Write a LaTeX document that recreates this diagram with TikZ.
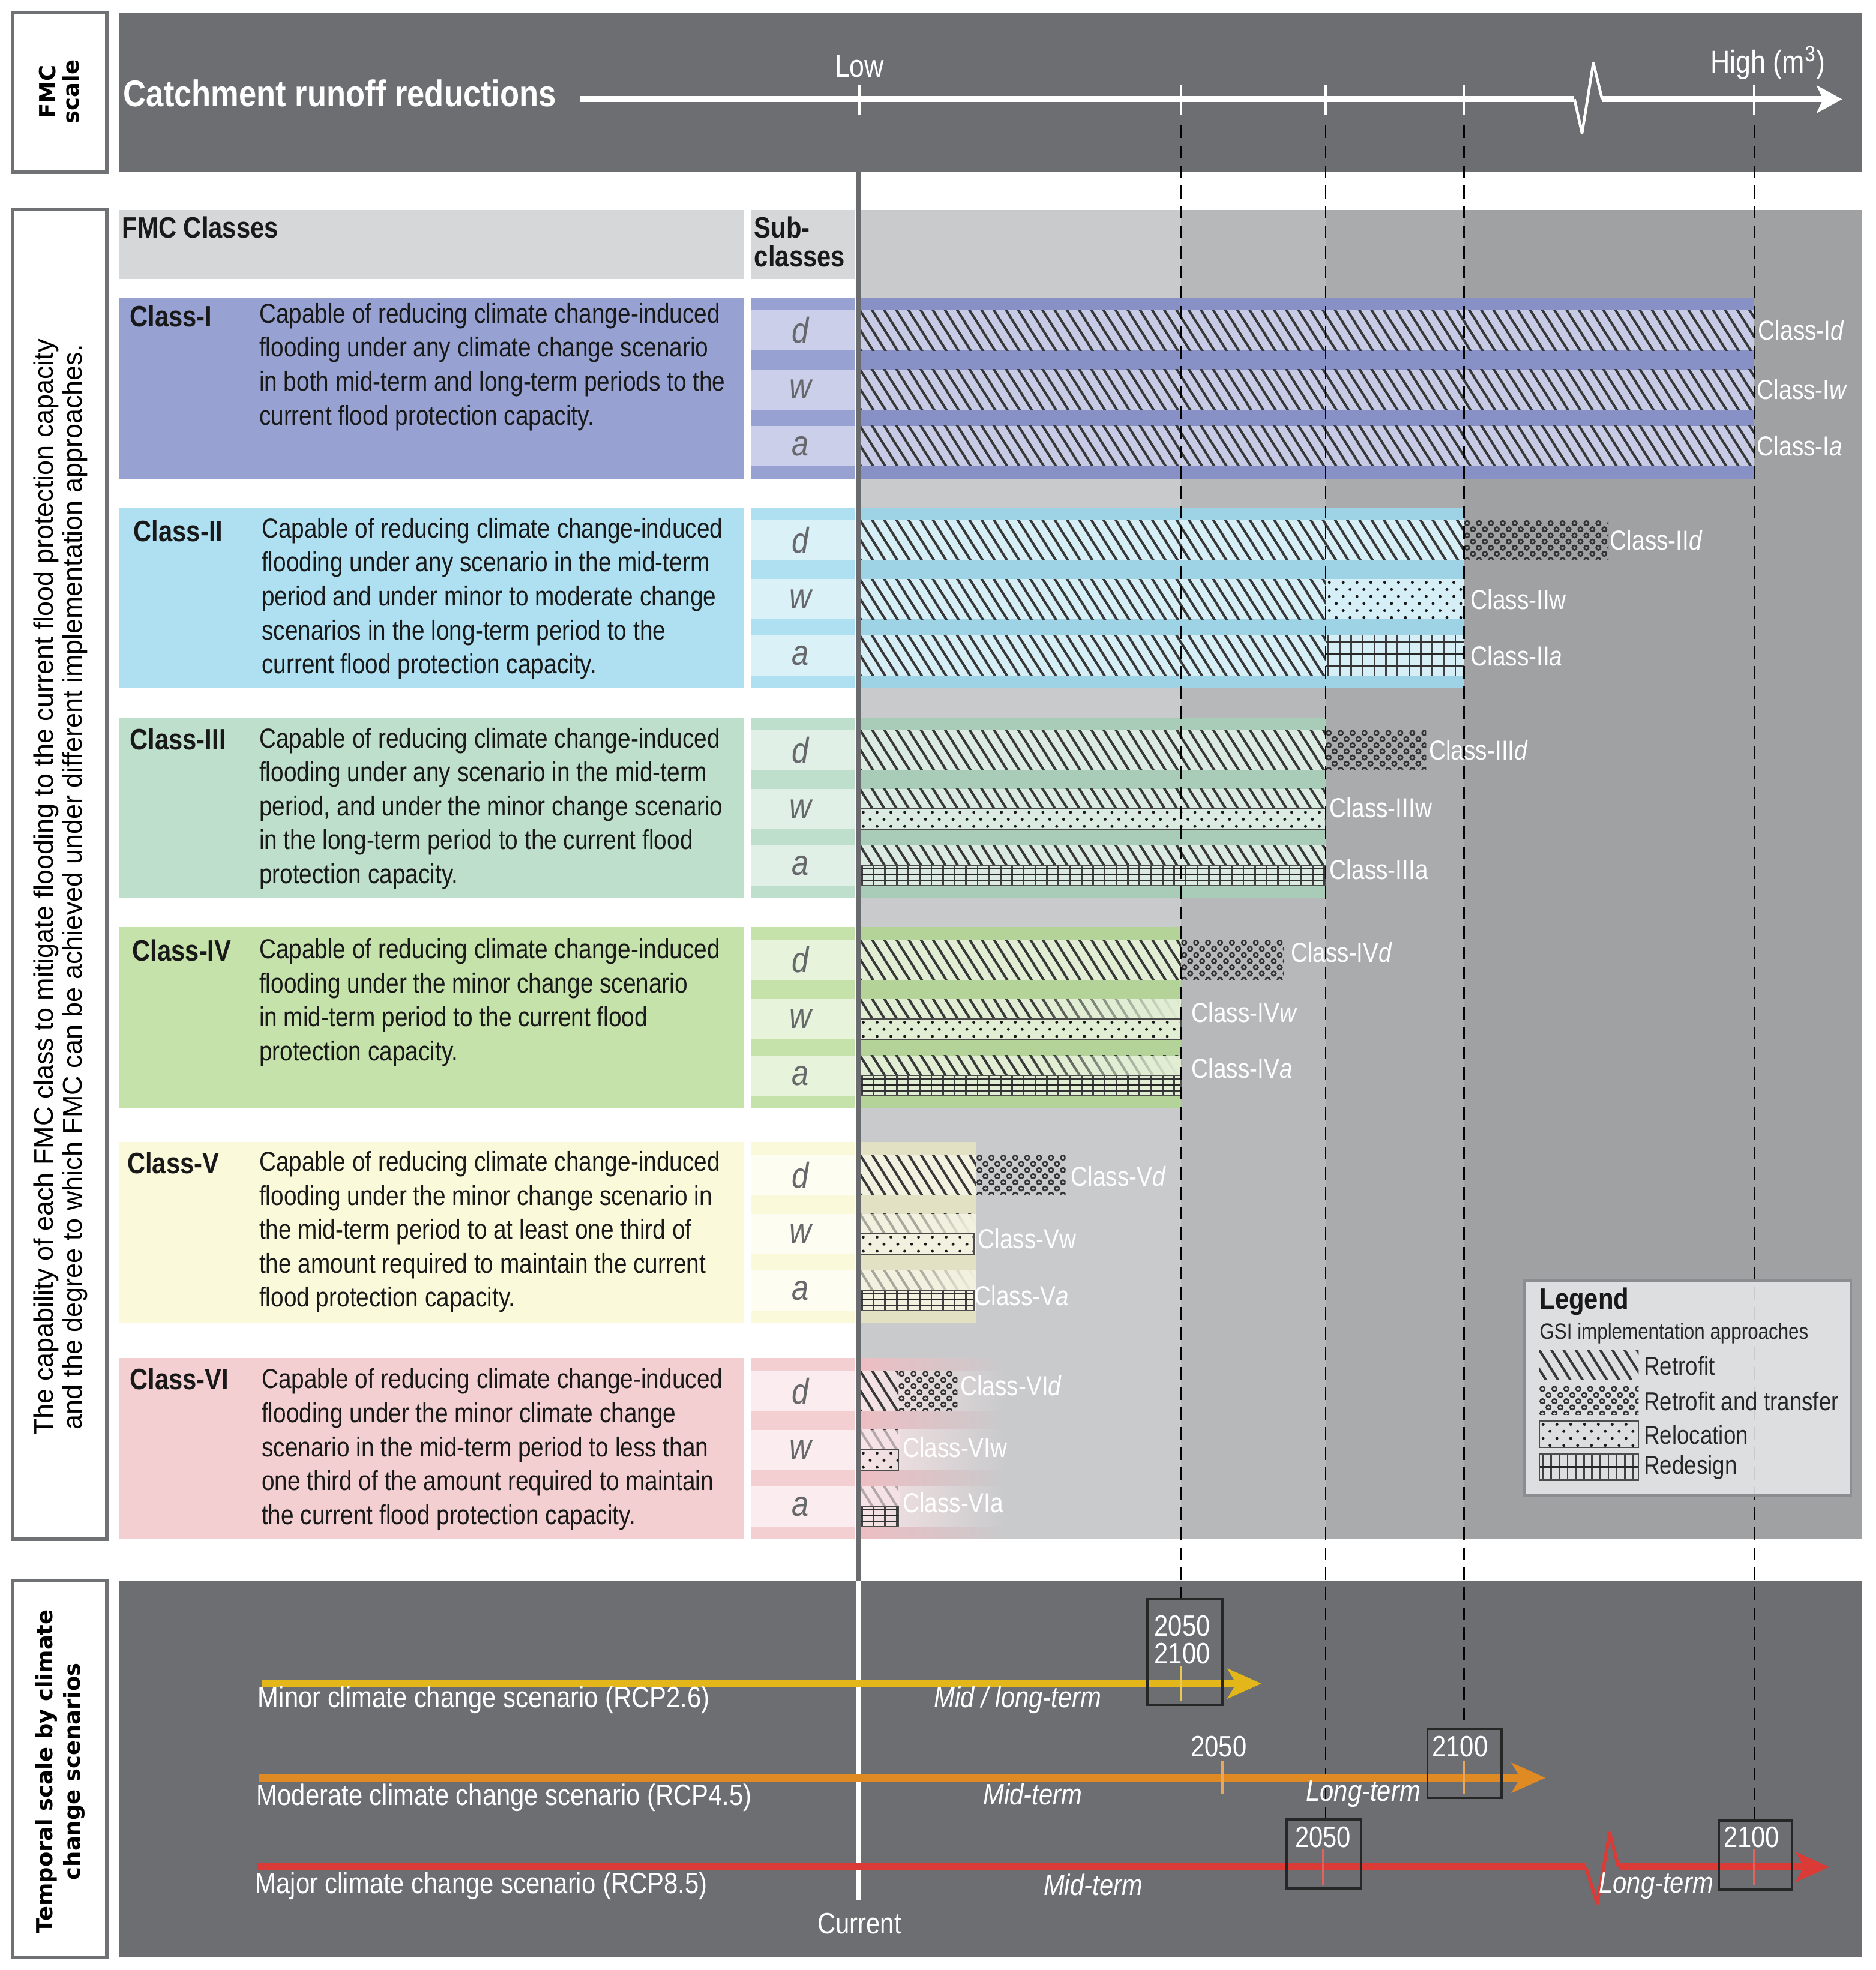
\documentclass[tikz,border=0pt]{standalone}
\usepackage{fontspec}
\setmainfont{Liberation Sans}[FakeStretch=0.85]
\newfontfamily\plainsans{Liberation Sans}
\newfontfamily\dvsans{DejaVu Sans}
\usetikzlibrary{arrows.meta,fadings}

\definecolor{panel}{HTML}{6D6E71}
\definecolor{frame}{HTML}{707174}
\definecolor{colA}{HTML}{C9CACC}
\definecolor{colB}{HTML}{B7B8BA}
\definecolor{colC}{HTML}{AAABAD}
\definecolor{colD}{HTML}{A0A1A3}
\definecolor{hdr}{HTML}{D6D7D9}
\definecolor{curline}{HTML}{6A6B6E}
\definecolor{hatchc}{HTML}{383838}
\definecolor{subtxt}{HTML}{67686B}
\definecolor{cIL}{HTML}{97A2D3}\definecolor{cIS}{HTML}{8791C5}\definecolor{cIC}{HTML}{C8CBE6}\definecolor{cIU}{HTML}{CBCFEA}
\definecolor{cIIL}{HTML}{AEE0F1}\definecolor{cIIS}{HTML}{9ED3E5}\definecolor{cIIC}{HTML}{D6EEF5}\definecolor{cIIU}{HTML}{DAF1F8}
\definecolor{cIIIL}{HTML}{BEDFCC}\definecolor{cIIIS}{HTML}{A8CCB7}\definecolor{cIIIC}{HTML}{DCEBE2}\definecolor{cIIIU}{HTML}{E1F0E7}
\definecolor{cIVL}{HTML}{C5E2AA}\definecolor{cIVS}{HTML}{B3D398}\definecolor{cIVC}{HTML}{E2EED4}\definecolor{cIVU}{HTML}{E7F3DB}
\definecolor{cVL}{HTML}{FAF9DA}\definecolor{cVS}{HTML}{E2E1C3}\definecolor{cVC}{HTML}{F2F1E0}\definecolor{cVU}{HTML}{FDFDF1}
\definecolor{cVIL}{HTML}{F3CFD2}\definecolor{cVIS}{HTML}{EDBEC3}\definecolor{cVIC}{HTML}{F8E4E6}\definecolor{cVIU}{HTML}{FBEDEF}
\definecolor{yel}{HTML}{E3B719}
\definecolor{ora}{HTML}{E08A24}
\definecolor{redl}{HTML}{DA3B36}
\definecolor{legbg}{HTML}{E6E7E8}
\definecolor{legfr}{HTML}{8C8D90}

\tikzfading[name=fadeR, left color=transparent!100, right color=transparent!0]

% hatch "Retrofit"
\newcommand{\hatchbox}[4]{%
 \begin{scope}
  \clip (#1,#2) rectangle (#3,#4);
  \pgfmathtruncatemacro{\hN}{(#3-#1+30)/9.7+1}
  \foreach \i in {0,...,\hN}{
    \draw[hatchc, line width=1.15pt] ({#1-30+9.7*\i},{#2-2}) -- ++({0.63*(#4-#2+4)},{#4-#2+4});
  }
 \end{scope}}
% rings "Retrofit and transfer"
\newcommand{\circbox}[4]{%
 \begin{scope}
  \clip (#1,#2) rectangle (#3,#4);
  \pgfmathtruncatemacro{\cN}{(#3-#1)/9.5+1}
  \pgfmathtruncatemacro{\cR}{(#4-#2)/4.9}
  \foreach \r in {0,...,\cR}{\foreach \c in {0,...,\cN}{
     \draw[black!80, line width=0.75pt] ({#1+2.5+9.5*\c+4.75*mod(\r,2)},{#2+2.4+4.9*\r}) circle (1.05pt);
  }}
 \end{scope}}
% dots "Relocation"
\newcommand{\dotbox}[4]{%
 \begin{scope}
  \clip (#1,#2) rectangle (#3,#4);
  \pgfmathtruncatemacro{\dN}{(#3-#1)/11+1}
  \pgfmathtruncatemacro{\dR}{(#4-#2)/5.6}
  \foreach \r in {0,...,\dR}{\foreach \c in {0,...,\dN}{
     \fill[black!90] ({#1+3+11*\c+5.5*mod(\r,2)},{#2+2.6+5.6*\r}) circle (0.7pt);
  }}
 \end{scope}}
% grid "Redesign"
\newcommand{\gridbox}[4]{%
 \begin{scope}
  \clip (#1,#2) rectangle (#3,#4);
  \pgfmathtruncatemacro{\gN}{(#3-#1)/9.2+1}
  \foreach \i in {0,...,\gN}{\draw[black!75, line width=0.8pt] ({#1+2+9.2*\i},#2) -- ({#1+2+9.2*\i},#4);}
  \draw[black!80, line width=0.8pt] (#1,{#2+0.15*(#4-#2)}) -- (#3,{#2+0.15*(#4-#2)});
  \draw[black!85, line width=1pt] (#1,{#2+0.45*(#4-#2)}) -- (#3,{#2+0.45*(#4-#2)});
  \draw[black!80, line width=0.8pt] (#1,{#2+0.75*(#4-#2)}) -- (#3,{#2+0.75*(#4-#2)});
 \end{scope}}
% base of one class row
\newcommand{\classbase}[6]{%
  \fill[#2] (95,#1) rectangle (592,{#1+144});
  \fill[#2] (598,#1) rectangle (680,{#1+144});
  \foreach \k in {10,57,102}{\fill[#5] (598,{#1+\k}) rectangle (680,{#1+\k+32});}
  \fill[#3] (684,#1) rectangle (#6,{#1+144});
  \foreach \k in {10,57,102}{\fill[#4] (684,{#1+\k}) rectangle (#6,{#1+\k+32});}
  \node[subl] at (637,{#1+26}) {d};
  \node[subl] at (637,{#1+73}) {w};
  \node[subl] at (637,{#1+118}) {a};
}

\begin{document}
\begin{tikzpicture}[x=0.020945cm,y=-0.020945cm,
  wframe/.style={fill=white, draw=frame, line width=1.6pt},
  dashln/.style={black, line width=0.8pt, dash pattern=on 6pt off 3.5pt},
  strip/.style={black!70, line width=0.6pt},
  lbl/.style={white, anchor=west, inner sep=0pt, font=\fontsize{13}{15}\selectfont},
  desc/.style={anchor=north west, inner sep=0pt, align=left, text=black!90, font=\fontsize{13}{16.1}\selectfont},
  clsname/.style={anchor=base west, inner sep=0pt, text=black!90, font=\bfseries\fontsize{14}{16}\selectfont},
  subl/.style={subtxt, inner sep=0pt, font=\itshape\fontsize{17}{19}\selectfont},
  wtxt/.style={white, inner sep=0pt, font=\fontsize{14}{16}\selectfont},
  witx/.style={white, inner sep=0pt, font=\itshape\fontsize{14}{16}\selectfont},
  yearbox/.style={draw=black!85, line width=1.1pt},
  legtxt/.style={anchor=west, inner sep=0pt, text=black!85, font=\fontsize{12.3}{14}\selectfont}
]
\useasboundingbox (0,0) rectangle (1493,1568);
\fill[white] (0,0) rectangle (1493,1568);

% ================= TOP PANEL =================
\draw[wframe] (10,10) rectangle (85,137);
\fill[panel] (95,10) rectangle (1482,137);
\node[rotate=90, align=center, font=\dvsans\bfseries\fontsize{10.5}{11}\selectfont] (fmcscale) at (47,73) {FMC\\scale};

% ================= MIDDLE PANEL =================
\draw[wframe] (10,167) rectangle (85,1225);
\node[rotate=90, align=center, font=\plainsans\fontsize{12.8}{13.6}\selectfont] (capab) at (48,706)
 {The capability of each FMC class to mitigate flooding to the current flood protection capacity\\and the degree to which FMC can be achieved under different implementation approaches.};

\fill[colA] (684,167) rectangle (940,1225);
\fill[colB] (940,167) rectangle (1055,1225);
\fill[colC] (1055,167) rectangle (1165,1225);
\fill[colD] (1165,167) rectangle (1482,1225);

\fill[hdr] (95,167) rectangle (592,222);
\fill[hdr] (598,167) rectangle (680,222);
\node[anchor=west, inner sep=0pt, text=black!90, font=\bfseries\fontsize{14}{16}\selectfont] (hdrA) at (97,181) {FMC Classes};
\node[anchor=north west, inner sep=0pt, align=left, text=black!90, font=\bfseries\fontsize{14}{13.7}\selectfont] (hdrB) at (600,172) {Sub-\\classes};

% ---- Class I ----
\classbase{237}{cIL}{cIS}{cIC}{cIU}{1396}
\hatchbox{684}{247}{1396}{279}
\hatchbox{684}{294}{1396}{326}
\hatchbox{684}{339}{1396}{371}
\node[clsname] (nI) at (103,260) {Class-I};
\node[desc] (dI) at (206,241) {Capable of reducing climate change-induced\\flooding under any climate change scenario\\in both mid-term and long-term periods to the\\current flood protection capacity.};

% ---- Class II ----
\classbase{404}{cIIL}{cIIS}{cIIC}{cIIU}{1165}
\hatchbox{684}{414}{1165}{446}\circbox{1165}{414}{1280}{446}
\hatchbox{684}{461}{1055}{493}\dotbox{1055}{461}{1165}{493}
\hatchbox{684}{506}{1055}{538}\gridbox{1055}{506}{1165}{538}
\node[clsname] (nII) at (106,431) {Class-II};
\node[desc] (dII) at (208,412) {Capable of reducing climate change-induced\\flooding under any scenario in the mid-term\\period and under minor to moderate change\\scenarios in the long-term period to the\\current flood protection capacity.};

% ---- Class III ----
\classbase{571}{cIIIL}{cIIIS}{cIIIC}{cIIIU}{1055}
\hatchbox{684}{581}{1055}{613}\circbox{1055}{581}{1135}{613}
\hatchbox{684}{628}{1055}{644}\dotbox{684}{644}{1055}{660}
\draw[strip] (684,644) rectangle (1055,660);
\hatchbox{684}{673}{1055}{689}\gridbox{684}{689}{1055}{705}
\draw[strip] (684,689) rectangle (1055,705);
\node[clsname] (nIII) at (103,597) {Class-III};
\node[desc] (dIII) at (206,579) {Capable of reducing climate change-induced\\flooding under any scenario in the mid-term\\period, and under the minor change scenario\\in the long-term period to the current flood\\protection capacity.};

% ---- Class IV ----
\classbase{738}{cIVL}{cIVS}{cIVC}{cIVU}{940}
\hatchbox{684}{748}{940}{780}\circbox{940}{748}{1022}{780}
\hatchbox{684}{795}{940}{811}
\fill[cIVC, path fading=fadeR] (820,795) rectangle (940,811);
\dotbox{684}{811}{940}{827}
\draw[strip] (684,811) rectangle (940,827);
\hatchbox{684}{840}{940}{856}
\fill[cIVC, path fading=fadeR] (820,840) rectangle (940,856);
\gridbox{684}{856}{940}{872}
\draw[strip] (684,856) rectangle (940,872);
\node[clsname] (nIV) at (105,765) {Class-IV};
\node[desc] (dIV) at (206,747) {Capable of reducing climate change-induced\\flooding under the minor change scenario\\in mid-term period to the current flood\\protection capacity.};

% ---- Class V ----
\classbase{909}{cVL}{cVS}{cVC}{cVU}{777}
\hatchbox{684}{919}{777}{951}\circbox{777}{919}{848}{951}
\hatchbox{684}{966}{777}{982}
\fill[cVC, opacity=0.6] (684,966) rectangle (777,982);
\fill[cVC, path fading=fadeR] (730,966) rectangle (777,982);
\dotbox{684}{982}{775}{998}
\draw[strip] (684,982) rectangle (775,998);
\hatchbox{684}{1011}{777}{1027}
\fill[cVC, opacity=0.6] (684,1011) rectangle (777,1027);
\fill[cVC, path fading=fadeR] (730,1011) rectangle (777,1027);
\gridbox{684}{1027}{775}{1043}
\draw[strip] (684,1027) rectangle (775,1043);
\node[clsname] (nV) at (101,934) {Class-V};
\node[desc] (dV) at (206,916) {Capable of reducing climate change-induced\\flooding under the minor change scenario in\\the mid-term period to at least one third of\\the amount required to maintain the current\\flood protection capacity.};

% ---- Class VI ----
\fill[cVIL] (95,1081) rectangle (592,1225);
\fill[cVIL] (598,1081) rectangle (680,1225);
\foreach \k in {10,57,102}{\fill[cVIU] (598,{1081+\k}) rectangle (680,{1081+\k+32});}
\node[subl] at (637,1107) {d};
\node[subl] at (637,1154) {w};
\node[subl] at (637,1199) {a};
\shade[left color=cVIS, right color=colA] (684,1081) rectangle (800,1225);
\foreach \k in {10,57,102}{\shade[left color=cVIC, right color=colA] (684,{1081+\k}) rectangle (800,{1081+\k+32});}
\hatchbox{684}{1091}{715}{1123}\circbox{715}{1091}{762}{1123}
\hatchbox{684}{1138}{715}{1154}
\fill[cVIC, opacity=0.65] (684,1138) rectangle (716,1154);
\dotbox{684}{1154}{715}{1170}
\draw[strip] (684,1154) rectangle (715,1170);
\hatchbox{684}{1183}{715}{1199}
\fill[cVIC, opacity=0.65] (684,1183) rectangle (716,1199);
\gridbox{684}{1199}{715}{1215}
\draw[strip] (684,1199) rectangle (715,1215);
\node[clsname] (nVI) at (103,1106) {Class-VI};
\node[desc] (dVI) at (208,1089) {Capable of reducing climate change-induced\\flooding under the minor climate change\\scenario in the mid-term period to less than\\one third of the amount required to maintain\\the current flood protection capacity.};

% ================= BOTTOM PANEL =================
\draw[wframe] (10,1258) rectangle (85,1558);
\fill[panel] (95,1258) rectangle (1482,1558);
\node[rotate=90, align=center, font=\dvsans\bfseries\fontsize{10.5}{13}\selectfont] (tscale) at (48,1410) {Temporal scale by climate\\change scenarios};

% dashed guide lines
\coordinate (g1t) at (940,100);  \coordinate (g1b) at (940,1273);
\coordinate (g2t) at (1055,100); \coordinate (g2b) at (1055,1448);
\coordinate (g3t) at (1165,100); \coordinate (g3b) at (1165,1376);
\coordinate (g4t) at (1396,100); \coordinate (g4b) at (1396,1449);
\draw[dashln] (g1t) -- (g1b);
\draw[dashln] (g2t) -- (g2b);
\draw[dashln] (g3t) -- (g3b);
\draw[dashln] (g4t) -- (g4b);

% current line
\coordinate (curT) at (683,137);
\coordinate (curM) at (683,1258);
\coordinate (curB) at (683,1512);
\draw[curline, line width=2.3pt] (curT) -- (curM);
\draw[white, line width=2pt] (curM) -- (curB);
\node[wtxt] (curlbl) at (684,1531) {Current};

% axis
\coordinate (ax0) at (462,79);
\coordinate (ax1) at (1253,79);
\coordinate (ax2) at (1275,79);
\coordinate (ax3) at (1466,79);
\draw[white, line width=2.8pt] (ax0) -- (ax1);
\draw[white, line width=1.3pt, line join=round] (ax1) -- (1259,106) -- (1268,50) -- (ax2);
\draw[white, line width=2.8pt, -{Stealth[length=12pt,width=13pt,inset=3pt]}] (ax2) -- (ax3);
\foreach \x in {684,940,1055,1165,1396}{\draw[white, line width=1pt] (\x,68) -- (\x,91);}
\node[white, inner sep=0pt, font=\fontsize{15}{17}\selectfont] (low) at (684,53) {Low};
\node[white, inner sep=0pt, font=\fontsize{15}{17}\selectfont] (high) at (1407,50) {High (m\textsuperscript{3})};
\node[anchor=west, inner sep=0pt, white, font=\bfseries\fontsize{17.6}{20}\selectfont] (catch) at (98,74) {Catchment runoff reductions};

% scenario arrows
\coordinate (y0) at (208,1340); \coordinate (y1) at (1004,1340);
\draw[yel, line width=3.5pt, -{Stealth[length=16pt,width=14pt,inset=4pt]}] (y0) -- (y1);
\coordinate (o0) at (206,1415); \coordinate (o1) at (1230,1415);
\draw[ora, line width=3.5pt, -{Stealth[length=16pt,width=14pt,inset=4pt]}] (o0) -- (o1);
\coordinate (r0) at (205,1486); \coordinate (r1) at (1262,1486);
\coordinate (r2) at (1288,1486); \coordinate (r3) at (1456,1486);
\draw[redl, line width=3.5pt] (r0) -- (r1);
\draw[redl, line width=1.6pt, line join=round] (r1) -- (1271,1515) -- (1281,1459) -- (r2);
\draw[redl, line width=3.5pt, -{Stealth[length=16pt,width=14pt,inset=4pt]}] (r2) -- (r3);

\draw[yel!75!white, line width=1.2pt] (940,1326) -- (940,1354);
\draw[ora!75!white, line width=1.2pt] (973,1402) -- (973,1428);
\draw[ora!75!white, line width=1.2pt] (1165,1402) -- (1165,1428);
\draw[redl!80!white, line width=1.2pt] (1053,1472) -- (1053,1500);
\draw[redl!80!white, line width=1.2pt] (1396,1472) -- (1396,1500);

\draw[yearbox] (913,1273) rectangle (973,1357);
\draw[yearbox] (1136,1376) rectangle (1195,1431);
\draw[yearbox] (1024,1448) rectangle (1083,1503);
\draw[yearbox] (1368,1449) rectangle (1426,1504);
\node[wtxt] (b1a) at (941,1294) {2050};
\node[wtxt] (b1b) at (941,1316) {2100};
\node[wtxt] (b2) at (970,1390) {2050};
\node[wtxt] (b3) at (1162,1390) {2100};
\node[wtxt] (b4) at (1053,1462) {2050};
\node[wtxt] (b5) at (1394,1462) {2100};

\node[wtxt, anchor=west] (sc1) at (205,1353) {Minor climate change scenario (RCP2.6)};
\node[wtxt, anchor=west] (sc2) at (204,1431) {Moderate climate change scenario (RCP4.5)};
\node[wtxt, anchor=west] (sc3) at (203,1501) {Major climate change scenario (RCP8.5)};
\node[witx] (t1) at (810,1353) {Mid / long-term};
\node[witx] (t2) at (822,1428) {Mid-term};
\node[witx] (t3) at (1085,1428) {Long-term};
\node[witx] (t4) at (870,1500) {Mid-term};
\node[witx] (t5) at (1318,1501) {Long-term};

% class labels on the right
\node[lbl] (lId) at (1399,263) {Class-I\textit{d}};
\node[lbl] (lIw) at (1398,310) {Class-I\textit{w}};
\node[lbl] (lIa) at (1398,355) {Class-I\textit{a}};
\node[lbl] (lIId) at (1281,430) {Class-II\textit{d}};
\node[lbl] (lIIw) at (1170,477) {Class-IIw};
\node[lbl] (lIIa) at (1170,522) {Class-II\textit{a}};
\node[lbl] (lIIId) at (1137,597) {Class-III\textit{d}};
\node[lbl] (lIIIw) at (1058,643) {Class-IIIw};
\node[lbl] (lIIIa) at (1058,692) {Class-IIIa};
\node[lbl] (lIVd) at (1027,758) {Class-IV\textit{d}};
\node[lbl] (lIVw) at (948,806) {Class-IV\textit{w}};
\node[lbl] (lIVa) at (948,850) {Class-IV\textit{a}};
\node[lbl] (lVd) at (852,936) {Class-V\textit{d}};
\node[lbl] (lVw) at (778,986) {Class-Vw};
\node[lbl] (lVa) at (775,1031) {Class-V\textit{a}};
\node[lbl] (lVId) at (764,1103) {Class-VI\textit{d}};
\node[lbl] (lVIw) at (718,1152) {Class-VIw};
\node[lbl] (lVIa) at (718,1196) {Class-VIa};

% legend
\fill[legbg, fill opacity=0.88] (1213,1019) rectangle (1473,1190);
\draw[legfr, line width=1.2pt] (1213,1019) rectangle (1473,1190);
\node[anchor=west, inner sep=0pt, text=black!90, font=\bfseries\fontsize{14}{16}\selectfont] (legT) at (1225,1036) {Legend};
\node[anchor=west, inner sep=0pt, text=black!85, font=\fontsize{10.5}{12}\selectfont] (legS) at (1225,1061) {GSI implementation approaches};
\hatchbox{1225}{1075}{1304}{1098}
\circbox{1225}{1103}{1304}{1126}
\dotbox{1225}{1131}{1304}{1152}
\draw[strip] (1225,1131) rectangle (1304,1152);
\begin{scope}
 \clip (1225,1157) rectangle (1304,1178);
 \foreach \i in {0,...,12}{\draw[black!75, line width=0.8pt] ({1228+6.5*\i},1157) -- ({1228+6.5*\i},1178);}
 \draw[black!85, line width=1.1pt] (1225,1167.5) -- (1304,1167.5);
\end{scope}
\draw[strip] (1225,1157) rectangle (1304,1178);
\node[legtxt] (lg1) at (1308,1087) {Retrofit};
\node[legtxt] (lg2) at (1308,1115) {Retrofit and transfer};
\node[legtxt] (lg3) at (1308,1142) {Relocation};
\node[legtxt] (lg4) at (1308,1168) {Redesign};
\end{tikzpicture}
\end{document}
